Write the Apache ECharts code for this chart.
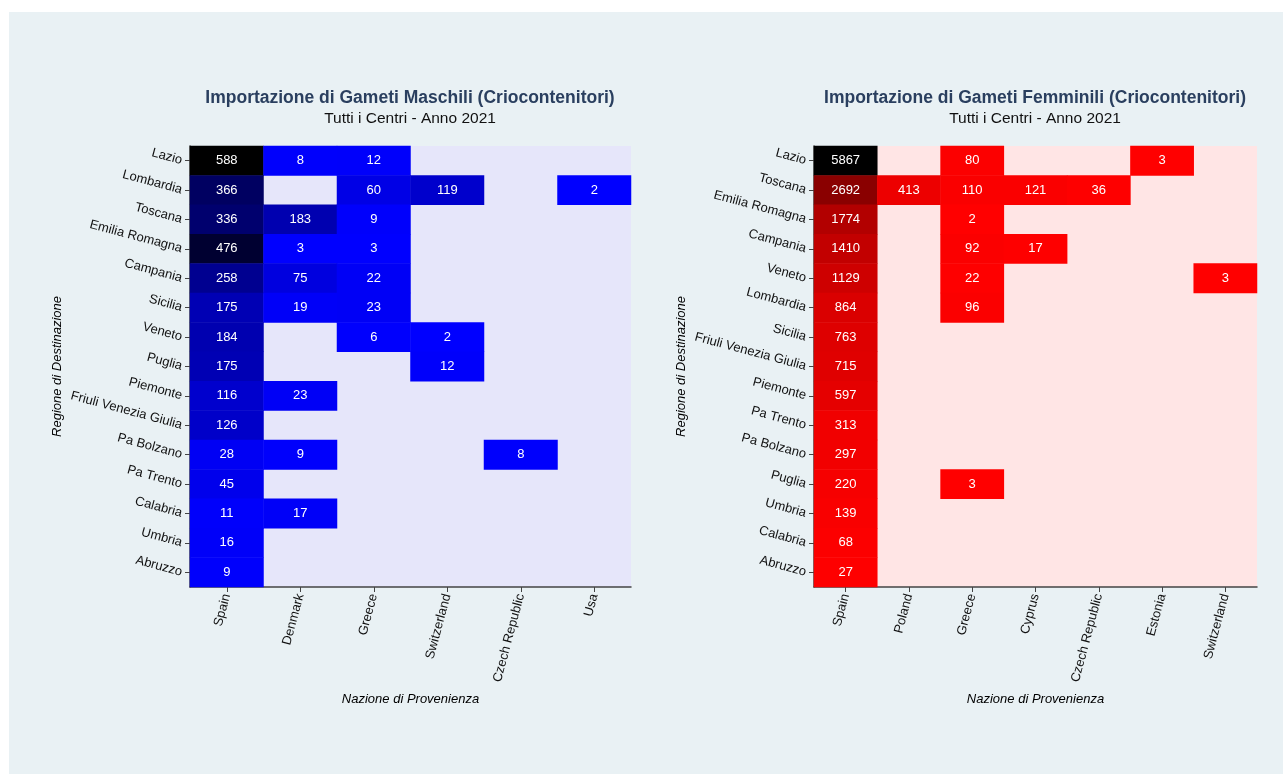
<!DOCTYPE html>
<html>
<head>
<meta charset="utf-8">
<script src="https://cdn.jsdelivr.net/npm/echarts@6/dist/echarts.min.js"></script>
<style>
  html, body { margin: 0; padding: 0; background: #ffffff; }
  #chart { position: absolute; left: 9px; top: 12px; width: 1274px; height: 762px; background: #e9f1f4; }
</style>
</head>
<body>
<div id="chart"></div>
<script>
// --- maschili (left) ---
var maleCountries = ['Spain', 'Denmark', 'Greece', 'Switzerland', 'Czech Republic', 'Usa'];
var maleRegions = ['Lazio', 'Lombardia', 'Toscana', 'Emilia Romagna', 'Campania', 'Sicilia', 'Veneto', 'Puglia',
    'Piemonte', 'Friuli Venezia Giulia', 'Pa Bolzano', 'Pa Trento', 'Calabria', 'Umbria', 'Abruzzo'];
var maleValues = [
    [588, 8, 12, null, null, null],
    [366, null, 60, 119, null, 2],
    [336, 183, 9, null, null, null],
    [476, 3, 3, null, null, null],
    [258, 75, 22, null, null, null],
    [175, 19, 23, null, null, null],
    [184, null, 6, 2, null, null],
    [175, null, null, 12, null, null],
    [116, 23, null, null, null, null],
    [126, null, null, null, null, null],
    [28, 9, null, null, 8, null],
    [45, null, null, null, null, null],
    [11, 17, null, null, null, null],
    [16, null, null, null, null, null],
    [9, null, null, null, null, null]
];

// --- femminili (right) ---
var femaleCountries = ['Spain', 'Poland', 'Greece', 'Cyprus', 'Czech Republic', 'Estonia', 'Switzerland'];
var femaleRegions = ['Lazio', 'Toscana', 'Emilia Romagna', 'Campania', 'Veneto', 'Lombardia', 'Sicilia',
    'Friuli Venezia Giulia', 'Piemonte', 'Pa Trento', 'Pa Bolzano', 'Puglia', 'Umbria', 'Calabria', 'Abruzzo'];
var femaleValues = [
    [5867, null, 80, null, null, 3, null],
    [2692, 413, 110, 121, 36, null, null],
    [1774, null, 2, null, null, null, null],
    [1410, null, 92, 17, null, null, null],
    [1129, null, 22, null, null, null, 3],
    [864, null, 96, null, null, null, null],
    [763, null, null, null, null, null, null],
    [715, null, null, null, null, null, null],
    [597, null, null, null, null, null, null],
    [313, null, null, null, null, null, null],
    [297, null, null, null, null, null, null],
    [220, null, 3, null, null, null, null],
    [139, null, null, null, null, null, null],
    [68, null, null, null, null, null, null],
    [27, null, null, null, null, null, null]
];

function toCells(rows) {
    var out = [];
    rows.forEach(function (row, y) {
        row.forEach(function (v, x) {
            if (v !== null) out.push([x, y, v]);
        });
    });
    return out;
}
function flat(rows) {
    var a = [];
    rows.forEach(function (r) { r.forEach(function (v) { if (v !== null) a.push(v); }); });
    return a;
}

var font = "'Liberation Sans', Arial, sans-serif";
var axisColor = '#444';

function xAxisFor(gridIndex, cats) {
    return {
        type: 'category', gridIndex: gridIndex, data: cats,
        name: 'Nazione di Provenienza', nameLocation: 'middle', nameGap: 106,
        nameTextStyle: { fontStyle: 'italic', fontSize: 13, color: '#000', fontFamily: font },
        axisLine: { show: true, lineStyle: { color: axisColor, width: 1.5 } },
        axisTick: { show: true, alignWithLabel: true, length: 5, lineStyle: { color: axisColor } },
        axisLabel: { rotate: 75, fontSize: 13, color: '#111', fontFamily: font, margin: 7, interval: 0 },
        splitLine: { show: false }
    };
}
function yAxisFor(gridIndex, cats) {
    return {
        type: 'category', gridIndex: gridIndex, data: cats, inverse: true,
        name: 'Regione di Destinazione', nameLocation: 'middle', nameGap: 126, nameRotate: 90,
        nameTextStyle: { fontStyle: 'italic', fontSize: 13, color: '#000', fontFamily: font },
        axisLine: { show: true, lineStyle: { color: axisColor, width: 1.5 } },
        axisTick: { show: true, alignWithLabel: true, length: 5, lineStyle: { color: axisColor } },
        axisLabel: { rotate: -15, fontSize: 13, color: '#111', fontFamily: font, margin: 8, interval: 0 },
        splitLine: { show: false }
    };
}

var maleData = toCells(maleValues);
var femaleData = toCells(femaleValues);
var maleAll = flat(maleValues), femaleAll = flat(femaleValues);

var chart = echarts.init(document.getElementById('chart'));
var option = {
    animation: false,
    textStyle: { fontFamily: font },
    title: [
        { text: 'Importazione di Gameti Maschili (Criocontenitori)', left: 396, top: 72, textAlign: 'center',
          textStyle: { fontSize: 17.5, fontWeight: 'bold', color: '#2a3f5f', fontFamily: font } },
        { text: 'Tutti i Centri - Anno 2021', left: 396, top: 94, textAlign: 'center',
          textStyle: { fontSize: 15.5, fontWeight: 'normal', color: '#111', fontFamily: font } },
        { text: 'Importazione di Gameti Femminili (Criocontenitori)', left: 1021, top: 72, textAlign: 'center',
          textStyle: { fontSize: 17.5, fontWeight: 'bold', color: '#2a3f5f', fontFamily: font } },
        { text: 'Tutti i Centri - Anno 2021', left: 1021, top: 94, textAlign: 'center',
          textStyle: { fontSize: 15.5, fontWeight: 'normal', color: '#111', fontFamily: font } }
    ],
    grid: [
        { left: 181, top: 134, width: 441, height: 441, show: true, backgroundColor: '#e6e6fa', borderWidth: 0 },
        { left: 805, top: 134, width: 443, height: 441, show: true, backgroundColor: '#ffe5e5', borderWidth: 0 }
    ],
    xAxis: [xAxisFor(0, maleCountries), xAxisFor(1, femaleCountries)],
    yAxis: [yAxisFor(0, maleRegions), yAxisFor(1, femaleRegions)],
    visualMap: [
        { show: false, seriesIndex: 0, dimension: 2, min: Math.min.apply(null, maleAll), max: Math.max.apply(null, maleAll),
          inRange: { color: ['#0000ff', '#000000'] } },
        { show: false, seriesIndex: 1, dimension: 2, min: Math.min.apply(null, femaleAll), max: Math.max.apply(null, femaleAll),
          inRange: { color: ['#ff0000', '#000000'] } }
    ],
    series: [
        { type: 'heatmap', xAxisIndex: 0, yAxisIndex: 0, data: maleData,
          label: { show: true, color: '#fff', fontSize: 13, fontFamily: font },
          itemStyle: { borderWidth: 0 }, emphasis: { disabled: true } },
        { type: 'heatmap', xAxisIndex: 1, yAxisIndex: 1, data: femaleData,
          label: { show: true, color: '#fff', fontSize: 13, fontFamily: font },
          itemStyle: { borderWidth: 0 }, emphasis: { disabled: true } }
    ]
};
chart.setOption(option);
</script>
</body>
</html>
